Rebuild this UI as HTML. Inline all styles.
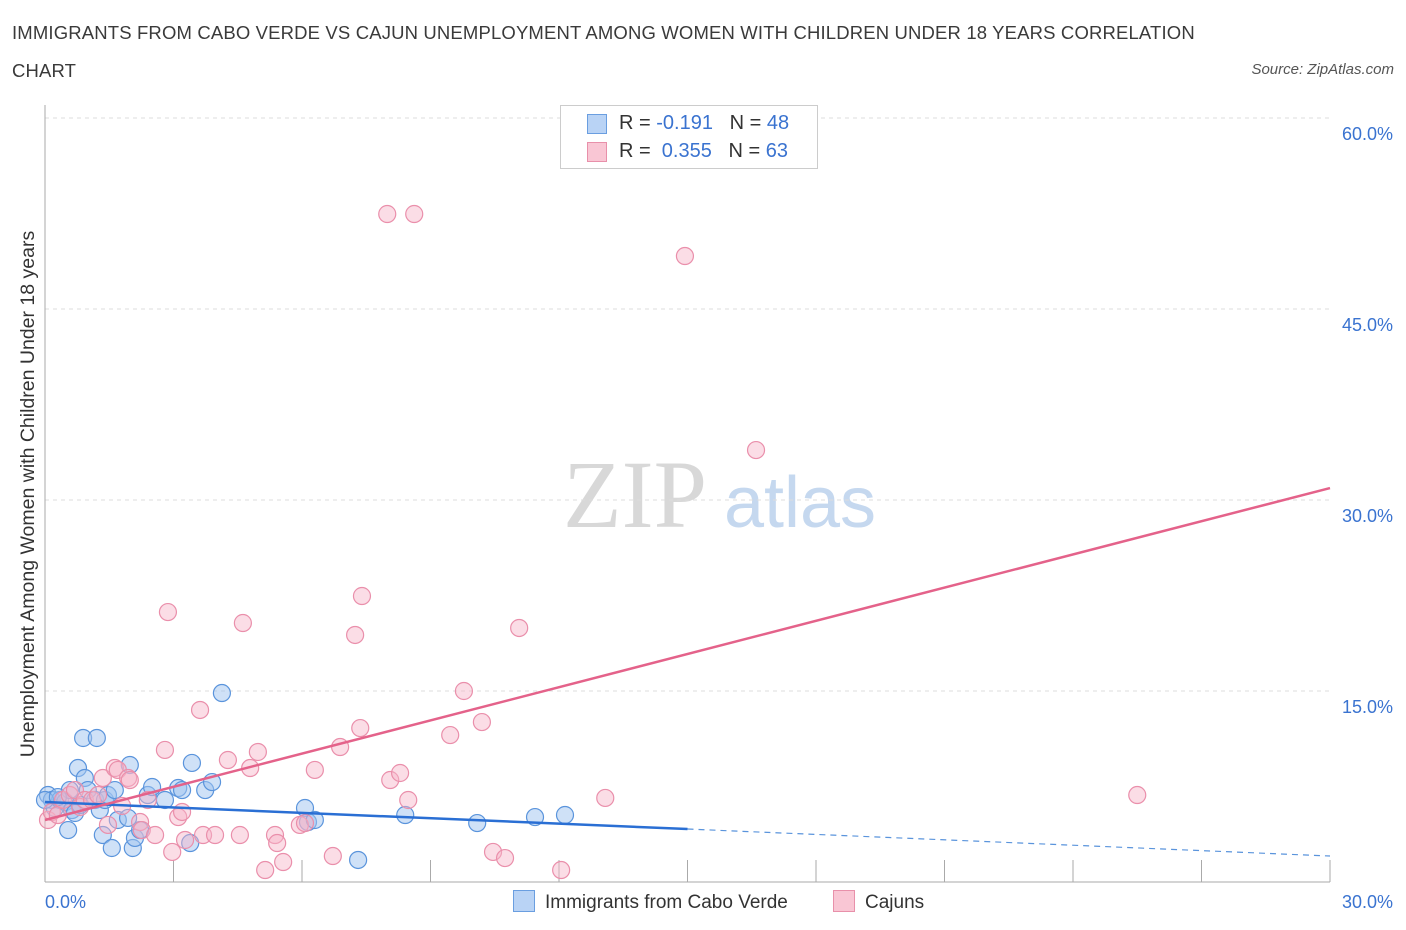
<!DOCTYPE html>
<html><head><meta charset="utf-8">
<style>
body{margin:0;background:#fff;font-family:"Liberation Sans",sans-serif;}
#wrap{position:relative;width:1406px;height:930px;overflow:hidden;}
.t{position:absolute;white-space:nowrap;}
</style></head>
<body>
<div id="wrap">
<div class="t" style="left:12px;top:14px;font-size:18.5px;letter-spacing:0.15px;color:#3a3a3a;line-height:38px;width:1220px;white-space:normal">IMMIGRANTS FROM CABO VERDE VS CAJUN UNEMPLOYMENT AMONG WOMEN WITH CHILDREN UNDER 18 YEARS CORRELATION CHART</div>
<div class="t" style="right:12px;top:61px;font-size:15px;font-style:italic;color:#555">Source: ZipAtlas.com</div>
<svg id="svg" width="1406" height="930" style="position:absolute;left:0;top:0">
<text x="34" y="494" transform="rotate(-90 34 494)" text-anchor="middle" font-size="19.5" fill="#333" font-family="Liberation Sans">Unemployment Among Women with Children Under 18 years</text>
<text x="635" y="527" text-anchor="middle" font-size="96" fill="#d8d8d8" font-family="Liberation Serif">ZIP</text>
<text x="800" y="527" text-anchor="middle" font-size="72" fill="#c5d8ef" font-family="Liberation Sans">atlas</text>
<g id="grid"></g><g id="pts"></g><g id="lines"></g>
</svg>
<div class="t" style="left:560px;top:105px;width:256px;height:62px;border:1px solid #ccc;background:#fff;font-size:20px;color:#333">
 <div style="position:absolute;left:26px;top:8px;width:18px;height:18px;background:#b9d3f5;border:1px solid #6a9ee0"></div>
 <div style="position:absolute;left:58px;top:6px">R = <span style="color:#3a73d0">-0.191</span>&nbsp;&nbsp;&nbsp;N = <span style="color:#3a73d0">48</span></div>
 <div style="position:absolute;left:26px;top:36px;width:18px;height:18px;background:#f9c6d4;border:1px solid #e890aa"></div>
 <div style="position:absolute;left:58px;top:34px">R = &nbsp;<span style="color:#3a73d0">0.355</span>&nbsp;&nbsp;&nbsp;N = <span style="color:#3a73d0">63</span></div>
</div>
<div class="t" style="left:513px;top:890px;font-size:19px;color:#333"><span style="display:inline-block;width:20px;height:20px;background:#b9d3f5;border:1px solid #6a9ee0;vertical-align:-4px;margin-right:10px"></span>Immigrants from Cabo Verde</div>
<div class="t" style="left:833px;top:890px;font-size:19px;color:#333"><span style="display:inline-block;width:20px;height:20px;background:#f9c6d4;border:1px solid #e890aa;vertical-align:-4px;margin-right:10px"></span>Cajuns</div>
</div>
<script>
const yTicks=[15,30,45,60];
const yTickLabels=["15.0%","30.0%","45.0%","60.0%"];
const blueX=[0.07,0.16,0.23,0.35,0.47,0.54,0.58,0.63,0.70,0.77,0.82,0.89,0.93,1.00,1.17,1.21,1.28,1.35,1.40,1.47,1.56,1.63,1.70,1.94,1.98,2.05,2.10,2.22,2.40,2.50,2.80,3.11,3.20,3.39,3.43,3.74,3.90,4.13,6.07,6.14,6.30,7.31,8.41,10.09,11.44,12.14,0,0.30];
const blueY=[6.83,6.44,5.81,6.44,6.28,4.08,7.22,5.65,5.42,8.95,6.05,11.31,8.17,7.22,6.44,11.31,5.65,3.69,6.44,6.83,2.67,7.22,4.87,5.03,9.19,2.67,3.46,4.08,6.83,7.46,6.44,7.38,7.22,3.06,9.35,7.22,7.85,14.84,5.81,4.71,4.87,1.73,5.26,4.63,5.10,5.26,6.44,6.67];
const pinkX=[0.07,0.16,0.30,0.42,0.58,0.70,0.82,0.93,1.10,1.24,1.35,1.47,1.63,1.70,1.80,1.94,1.98,2.22,2.26,2.40,2.57,2.80,2.87,2.97,3.11,3.20,3.27,3.62,3.69,3.97,4.27,4.55,4.62,4.79,4.97,5.14,5.37,5.42,5.56,5.95,6.07,6.30,6.72,6.89,7.24,7.36,7.40,7.99,8.06,8.29,8.48,8.62,9.46,9.78,10.20,10.46,10.74,11.07,12.05,13.08,14.94,16.60,25.50];
const pinkY=[4.87,5.50,5.26,6.44,6.83,7.22,5.89,6.44,6.44,6.83,8.17,4.48,8.95,8.80,5.97,8.17,8.01,4.71,4.08,6.44,3.69,10.37,21.20,2.36,5.10,5.50,3.30,13.51,3.69,3.69,9.58,3.69,20.34,8.95,10.21,0.94,3.69,3.06,1.57,4.48,4.63,8.80,2.04,10.60,19.40,12.09,22.46,52.46,8.01,8.56,6.44,52.46,11.54,15.00,12.56,2.36,1.88,19.95,0.94,6.60,49.16,33.92,6.83];
const blueTrend=[6.28,2.04], pinkTrend=[4.87,30.94];
const X=v=>45+v/30*1285, Y=v=>882-v/15*191;
const NS="http://www.w3.org/2000/svg";
function mk(t,a,p){const e=document.createElementNS(NS,t);for(const k in a)e.setAttribute(k,a[k]);p.appendChild(e);return e;}
const g=document.getElementById('grid');
yTicks.forEach((v,i)=>{
 const l=mk('line',{x1:45,x2:1330,y1:Y(v),y2:Y(v),stroke:'#ddd','stroke-dasharray':'4,4'},g);
 
 
 const t=mk('text',{x:1393,y:Y(v)+22,'text-anchor':'end','font-size':18,fill:'#3a73d0','font-family':'Liberation Sans'},g);
 t.textContent=yTickLabels[i];
 
 
});
const ax=mk('line',{x1:45,x2:45,y1:105,y2:882,stroke:'#aaa'},g);


const bx=mk('line',{x1:45,x2:1330,y1:882,y2:882,stroke:'#aaa'},g);


for(let i=0;i<=10;i++){const tk=mk('line',{x1:X(i*3),x2:X(i*3),y1:860,y2:882,stroke:'#aaa'},g);
 
 }
[["0.0%",45,'start'],["30.0%",1393,'end']].forEach(a=>{const t=mk('text',{x:a[1],y:908,'text-anchor':a[2],'font-size':18,fill:'#3a73d0','font-family':'Liberation Sans'},g);t.textContent=a[0];
 
 });
const p=document.getElementById('pts');
blueX.forEach((v,i)=>{const c=mk('circle',{cx:X(v),cy:Y(blueY[i]),r:8.5,fill:'rgba(160,196,240,0.5)',stroke:'#5a94dc','stroke-width':1.2},p);
 
 });
pinkX.forEach((v,i)=>{const c=mk('circle',{cx:X(v),cy:Y(pinkY[i]),r:8.5,fill:'rgba(247,180,200,0.45)',stroke:'#ea8fab','stroke-width':1.2},p);
 
 });
const L=document.getElementById('lines');
const bt=v=>blueTrend[0]+(blueTrend[1]-blueTrend[0])*v/30;
let l1=mk('line',{x1:X(0),y1:Y(bt(0)),x2:X(15),y2:Y(bt(15)),stroke:'#2a6fd4','stroke-width':2.5},L);


let l2=mk('line',{x1:X(15),y1:Y(bt(15)),x2:X(30),y2:Y(bt(30)),stroke:'#5a94dc','stroke-width':1.2,'stroke-dasharray':'6,5'},L);


let l3=mk('line',{x1:X(0),y1:Y(pinkTrend[0]),x2:X(30),y2:Y(pinkTrend[1]),stroke:'#e4628a','stroke-width':2.5},L);


</script>
</body></html>
